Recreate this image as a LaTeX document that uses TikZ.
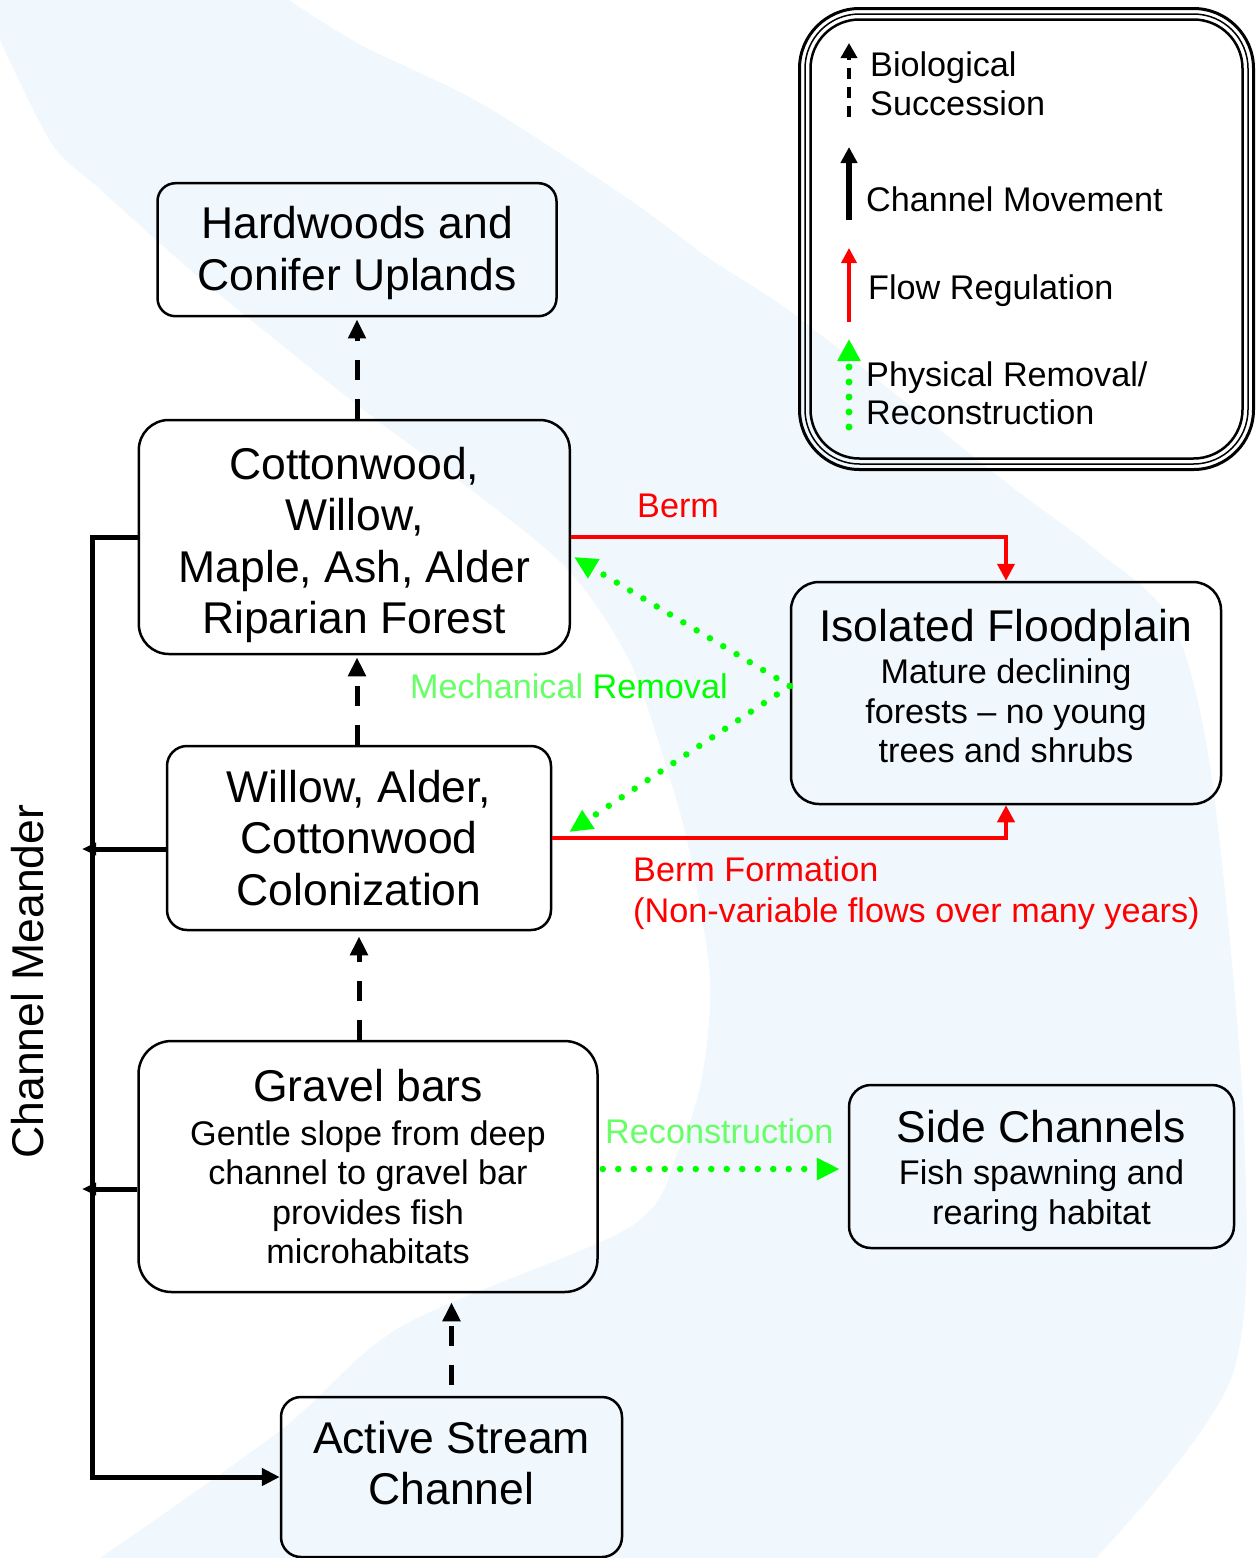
\documentclass[tikz,border=0pt]{standalone}
\usepackage{fontspec}
\setmainfont{Liberation Sans}
\usetikzlibrary{arrows.meta}

\definecolor{riverblue}{RGB}{240,247,253}
\definecolor{flowred}{RGB}{255,0,0}
\definecolor{removegreen}{RGB}{0,255,0}
\definecolor{palegreen}{RGB}{102,255,102}

\newcommand{\titlesize}{\fontsize{44.5}{51.5}\selectfont}
\newcommand{\subsize}{\fontsize{34.2}{39.5}\selectfont}

\begin{document}
\begin{tikzpicture}[x=1pt,y=-1pt,
  stage node/.style={draw,rounded corners=#1,line width=2.5pt,inner sep=0pt},
  stage node/.default=22pt,
  stage text/.style={inner sep=0pt,align=center,font=\titlesize},
  succession/.style={line width=5pt,dash pattern=on 20pt off 19pt,-{Triangle[length=19pt,width=17pt]}},
  meander/.style={line width=5pt},
  flow reg/.style={draw=flowred,line width=4pt,-{Triangle[length=17pt,width=17pt]}},
  removal/.style={draw=removegreen,line width=6.5pt,line cap=round,dash pattern=on 0pt off 15.5pt,-{Triangle[length=23pt,width=21pt]}},
  red label/.style={text=flowred,font=\subsize,inner sep=0pt},
  green label/.style={text=palegreen,font=\subsize,inner sep=0pt},
  legend text/.style={font=\subsize,inner sep=0pt,align=left}]

\useasboundingbox (0,0) rectangle (1260,1558);

% river in the background
\fill[riverblue] (0,0) -- plot[smooth,tension=0.5] coordinates {(289,0) (361,45) (482,104) (630,200) (710,259) (799,318) (1003,480) (1092,547) (1172,622) (1212,780) (1244,1127) (1232,1376) (1096,1558)}
  -- plot[smooth,tension=0.5] coordinates {(100,1558) (281,1430) (402,1326) (630,1227) (678,1152) (702,1077) (710,978) (690,854) (670,779) (630,662) (570,572) (482,498) (361,408) (201,279) (100,189) (52,144) (0,40)} -- cycle;

% stages
\node[stage node=18pt,minimum width=399pt,minimum height=133pt] (H) at (357,249.7) {};
\node[stage text] (H text) at (357,253) {Hardwoods and\\Conifer Uplands};
\node[stage node=30pt,minimum width=431pt,minimum height=234pt] (R) at (354.3,537) {};
\node[stage text] (R text) at (354.3,545) {Cottonwood,\\Willow,\\Maple, Ash, Alder\\Riparian Forest};
\node[stage node=20pt,minimum width=384pt,minimum height=184pt] (W) at (359,838) {};
\node[stage text] (W text) at (359,838) {Willow, Alder,\\Cottonwood\\Colonization};
\node[stage node=33pt,minimum width=459pt,minimum height=251pt] (G) at (368,1166.5) {};
\node[stage text,font=\subsize] (G text) at (368,1166.5) {{\titlesize Gravel bars}\\[4.5pt]Gentle slope from deep\\channel to gravel bar\\provides fish\\microhabitats};
\node[stage node=20pt,minimum width=341pt,minimum height=160pt] (A) at (451.5,1477) {};
\node[stage text] (A text) at (451.5,1463) {Active Stream\\Channel};
\node[stage node=28pt,minimum width=430pt,minimum height=222pt] (I) at (1006,693) {};
\node[stage text,font=\subsize] (I text) at (1006,686.5) {{\titlesize Isolated Floodplain}\\[2.5pt]Mature declining\\forests – no young\\trees and shrubs};
\node[stage node=22pt,minimum width=385pt,minimum height=163pt] (S) at (1041.5,1166.5) {};
\node[stage text,font=\subsize] (S text) at (1041.5,1171) {{\titlesize Side Channels}\\[2.5pt]Fish spawning and\\rearing habitat};

% labels
\node[font=\titlesize,rotate=90,anchor=base,inner sep=0pt] (meander) at (43,981.5) {Channel Meander};
\node[red label,anchor=base west] (berm) at (637,517) {Berm};
\node[red label,anchor=north west,align=left] (berm form) at (633,857) {Berm Formation\\[1.5pt](Non-variable flows over many years)};
\node[font=\subsize,anchor=base west,inner sep=0pt] (mech) at (410,698) {\textcolor{palegreen}{Mechanical} \textcolor{removegreen}{Removal}};
\node[green label,anchor=base west] (recon) at (605,1143) {Reconstruction};

% biological succession
\draw[succession,shorten >=2pt] (H.south |- R.north) -- (H.south);
\draw[succession,shorten >=2pt] (W.north -| H.south) -- (R.south -| H.south);
\draw[succession,shorten >=5pt] (G.north -| W.south) -- (W.south);
\draw[succession,shorten <=11pt,shorten >=9pt] (A.north) -- (A.north |- G.south);

% channel movement
\coordinate (wb) at (82,849);
\coordinate (gb) at (82,1189);
\draw[meander,-{Triangle[length=18pt,width=17pt]}] (R.west) -- ++(-45,0) |- (A.west);
\draw[meander,-{Triangle[length=14pt,width=12pt]}] (W.west |- wb) -- (wb);
\draw[meander,-{Triangle[length=14pt,width=12pt]}] (G.west |- gb) -- (gb);

% flow regulation
\draw[flow reg] (R.east) -| (I.north);
\draw[flow reg] (W.east) -| (I.south);

% physical removal / reconstruction
\coordinate (mr) at ([yshift=7pt]I.west);
\draw[removal] (mr) -- ([xshift=3pt,yshift=-20pt]R.east);
\draw[removal] (mr) -- ([xshift=17pt,yshift=6pt]W.east);
\coordinate (rc) at ([yshift=-2.5pt]G.east);
\draw[removal,shorten <=4pt,shorten >=8pt] (rc) -- (rc -| S.west);

% legend
\foreach \off/\lw/\rad in {0/3/60,5.5/1.5/54.5,11/2.5/49}
  \draw[line width=\lw pt,rounded corners=\rad pt] (799.5+\off,8.5+\off) rectangle (1253.5-\off,469.5-\off);
\coordinate (bs0) at (849,117); \coordinate (bs1) at (849,43);
\coordinate (cm0) at (849,220); \coordinate (cm1) at (849,147);
\coordinate (fr0) at (849,322); \coordinate (fr1) at (849,248);
\coordinate (pr0) at (849,427); \coordinate (pr1) at (849,339);
\draw[line width=3.5pt,dash pattern=on 11pt off 8pt,-{Triangle[length=15pt,width=16pt]}] (bs0) -- (bs1);
\draw[line width=6pt,-{Triangle[length=16pt,width=16pt]}] (cm0) -- (cm1);
\draw[draw=flowred,line width=3.5pt,-{Triangle[length=15pt,width=15pt]}] (fr0) -- (fr1);
\draw[removal,line width=7pt,dash pattern=on 0pt off 15pt,-{Triangle[length=22pt,width=22pt]}] (pr0) -- (pr1);
\node[legend text,anchor=west] (bio) at (870,84) {Biological\\Succession};
\node[legend text,anchor=base west] (chan) at (866,211) {Channel Movement};
\node[legend text,anchor=base west] (flow) at (868,299) {Flow Regulation};
\node[legend text,anchor=west] (phys) at (866,393.5) {Physical Removal/\\[-1.5pt]Reconstruction};
\end{tikzpicture}
\end{document}
